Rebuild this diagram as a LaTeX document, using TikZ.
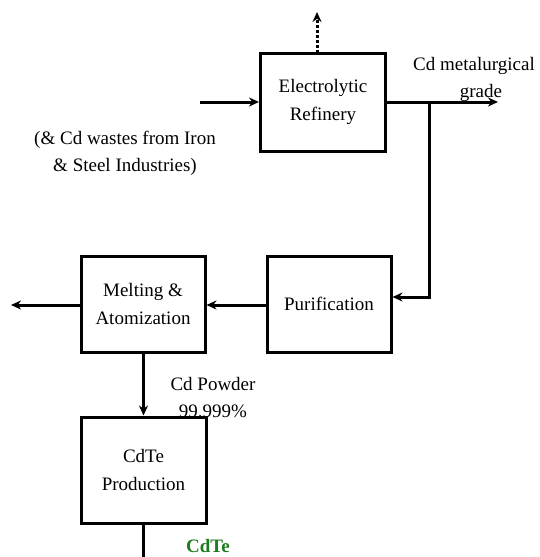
\documentclass[tikz,border=0pt]{standalone}
\usepackage{fontspec}
\setmainfont{Liberation Serif}
\usetikzlibrary{arrows.meta}
\definecolor{cdgreen}{RGB}{30,125,30}
\begin{document}
\begin{tikzpicture}[x=1pt,y=-1pt,
  procbox/.style={draw,line width=3pt,rectangle,align=center,font=\fontsize{19}{27.5}\selectfont,inner sep=0pt},
  lbl/.style={align=center,font=\fontsize{19}{27}\selectfont,inner sep=0pt},
  flow/.style={line width=3pt,-{Stealth[length=10pt,width=9pt]}},
  plain/.style={line width=3pt}]
\useasboundingbox (0,0) rectangle (540,557);
\node[procbox,minimum width=125pt,minimum height=98pt] (er) at (323,102) {Electrolytic\\Refinery};
\node[procbox,minimum width=124pt,minimum height=96pt] (pur) at (329,304) {Purification};
\node[procbox,minimum width=124pt,minimum height=96pt] (mel) at (143,304) {Melting \&\\Atomization};
\node[procbox,minimum width=125pt,minimum height=106pt] (cdp) at (143.5,470) {CdTe\\Production};
\coordinate (inp) at (200,102);
\coordinate (outp) at (498,102);
\coordinate (br) at (429,102);
\coordinate (brd) at (429,297);
\coordinate (top) at (317,12);
\coordinate (erTop) at (317,53);
\coordinate (left) at (11,305);
\coordinate (bot) at (143.5,557);
\draw[flow] (inp) -- (er.west |- inp);
\draw[flow] (er.east |- outp) -- (outp);
\draw[flow] (br) -- (brd) -- (pur.east |- brd);
\draw[line width=3pt,dash pattern=on 3pt off 2pt,-{Stealth[length=10pt,width=9pt]}] (erTop) -- (top);
\draw[flow] (pur.west |- left) -- (mel.east |- left);
\draw[flow] (mel.west |- left) -- (left);
\draw[flow] (mel.south -| cdp.north) -- (cdp.north);
\draw[plain] (cdp.south) -- (bot);
\node[lbl] (cdm) at (474,79) {Cd metalurgical\\\hspace*{14pt}grade};
\node[lbl] (waste) at (125,153) {(\& Cd wastes from Iron\\\& Steel Industries)};
\node[lbl] (pow) at (213,398) {Cd Powder\\99.999\%};
\node[lbl,text=cdgreen,font=\fontsize{19}{27}\selectfont\bfseries] (cdte) at (208,546) {CdTe};
\end{tikzpicture}
\end{document}
